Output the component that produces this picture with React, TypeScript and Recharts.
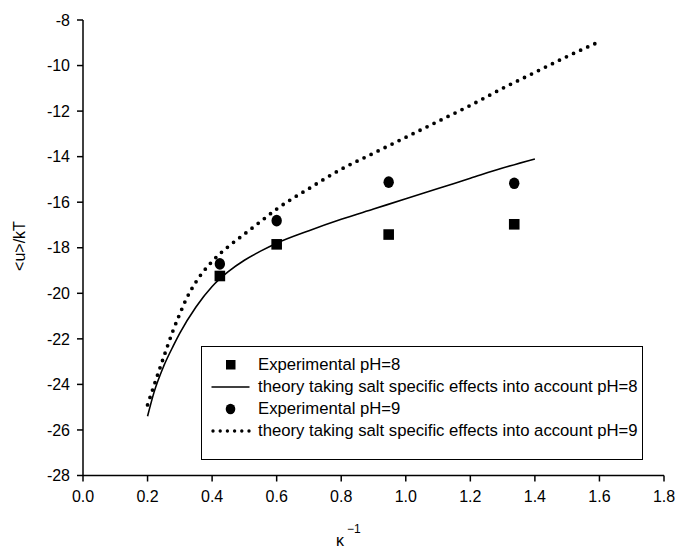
import React from 'react';
import { ComposedChart, Line, Scatter, XAxis, YAxis, Legend } from 'recharts';

const FONT = '"Liberation Sans", Arial, Helvetica, sans-serif';

const xTicks = [0, 0.2, 0.4, 0.6, 0.8, 1.0, 1.2, 1.4, 1.6, 1.8];
const yTicks = [-28, -26, -24, -22, -20, -18, -16, -14, -12, -10, -8];

const expX = [0.424, 0.6, 0.947, 1.336];
const expPH8 = [-19.24, -17.85, -17.42, -16.97];
const expPH9 = [-18.71, -16.81, -15.12, -15.17];

const theoryPH8X = [0.2, 0.22, 0.25, 0.28, 0.3, 0.35, 0.4, 0.45, 0.5, 0.55, 0.6, 0.7, 0.8, 0.9, 1.0, 1.1, 1.2, 1.3, 1.4];
const theoryPH8Y = [-25.4, -24.35, -23.2, -22.3, -21.75, -20.6, -19.7, -19.05, -18.55, -18.15, -17.8, -17.25, -16.75, -16.3, -15.85, -15.4, -14.95, -14.5, -14.1];

const theoryPH9X = [0.2, 0.22, 0.25, 0.28, 0.3, 0.32, 0.35, 0.4, 0.45, 0.5, 0.55, 0.6, 0.7, 0.8, 0.9, 1.0, 1.1, 1.2, 1.3, 1.4, 1.5, 1.6];
const theoryPH9Y = [-24.9, -24.05, -22.8, -21.6, -20.9, -20.25, -19.5, -18.6, -17.95, -17.4, -16.85, -16.3, -15.4, -14.55, -13.85, -13.15, -12.45, -11.75, -11.0, -10.3, -9.6, -8.95];

const legendLabels = [
  'Experimental pH=8',
  'theory taking salt specific effects into account pH=8',
  'Experimental pH=9',
  'theory taking salt specific effects into account pH=9',
];

const zip = (xs: number[], ys: number[]) => xs.map((x, i) => ({ x, y: ys[i] }));

const ph8Points = zip(expX, expPH8);
const ph9Points = zip(expX, expPH9);
const ph8Line = zip(theoryPH8X, theoryPH8Y);
const ph9Line = zip(theoryPH9X, theoryPH9Y);

const SquareShape = (p: any) => (
  <rect x={p.cx - 5.3} y={p.cy - 5.3} width={10.6} height={10.6} fill="#000" />
);
const CircleShape = (p: any) => (
  <ellipse cx={p.cx} cy={p.cy} rx={5.2} ry={5.8} fill="#000" />
);

const LegendIcon = ({ kind }: { kind: number }) => (
  <svg width={56} height={22} style={{ display: 'block', flex: '0 0 56px' }}>
    {kind === 0 && <rect x={24} y={6} width={9.5} height={9.5} fill="#000" />}
    {kind === 1 && <line x1={9.5} y1={11} x2={47.5} y2={11} stroke="#000" strokeWidth={1.6} />}
    {kind === 2 && <ellipse cx={28.5} cy={11} rx={4.8} ry={5.3} fill="#000" />}
    {kind === 3 && (
      <line x1={11} y1={11} x2={47} y2={11} stroke="#000" strokeWidth={3.4} strokeDasharray="0 7.2" strokeLinecap="round" />
    )}
  </svg>
);

const LegendBox = () => (
  <div
    style={{
      boxSizing: 'border-box',
      width: 442,
      height: 114,
      border: '1.5px solid #000',
      background: '#fff',
      fontFamily: FONT,
      fontSize: 16.7,
      color: '#000',
      paddingTop: 7,
    }}
  >
    {legendLabels.map((t, i) => (
      <div key={i} style={{ display: 'flex', alignItems: 'center', height: 22, whiteSpace: 'nowrap' }}>
        <LegendIcon kind={i} />
        <span>{t}</span>
      </div>
    ))}
  </div>
);

const YLabel = () => (
  <text
    x={19}
    y={246}
    transform="rotate(-90 19 246)"
    textAnchor="middle"
    dominantBaseline="central"
    fontFamily={FONT}
    fontSize={16}
    fill="#000"
  >
    {'<u>/kT'}
  </text>
);

const XLabel = () => (
  <text x={336} y={546} fontFamily={FONT} fontSize={16} fill="#000">
    κ
    <tspan x={347} y={533} fontSize={12}>
      −1
    </tspan>
  </text>
);

const tickStyle = { fontFamily: FONT, fontSize: 16, fill: '#000' };

export default function App() {
  return (
    <div style={{ position: 'absolute', left: 0, top: 0, background: '#fff' }}>
      <ComposedChart
        width={677}
        height={549}
        margin={{ top: 20, right: 13, bottom: 43.5, left: 23 }}
      >
        <XAxis
          xAxisId={0}
          dataKey="x"
          type="number"
          domain={[0, 1.8]}
          ticks={xTicks}
          tickFormatter={(v: number) => v.toFixed(1)}
          interval={0}
          allowDataOverflow
          stroke="#000"
          strokeWidth={1.5}
          tickSize={6}
          tickMargin={9}
          tick={tickStyle}
          height={30}
          label={{ content: <XLabel /> } as any}
        />
        <XAxis
          xAxisId="top"
          orientation="top"
          type="number"
          domain={[0, 1.8]}
          tick={false}
          tickLine={false}
          stroke="#000"
          strokeWidth={1.5}
          height={0}
        />
        <YAxis
          yAxisId={0}
          type="number"
          domain={[-28, -8]}
          ticks={yTicks}
          interval={0}
          allowDataOverflow
          stroke="#000"
          strokeWidth={1.5}
          tickSize={6}
          tickMargin={7}
          tick={tickStyle}
          width={60}
          label={{ content: <YLabel /> } as any}
        />
        <YAxis
          yAxisId="right"
          orientation="right"
          type="number"
          domain={[-28, -8]}
          tick={false}
          tickLine={false}
          stroke="#000"
          strokeWidth={1.5}
          width={0}
        />
        <Line
          data={ph8Line}
          dataKey="y"
          type="monotone"
          stroke="#000"
          strokeWidth={1.6}
          dot={false}
          activeDot={false}
          isAnimationActive={false}
        />
        <Line
          data={ph9Line}
          dataKey="y"
          type="monotone"
          stroke="#000"
          strokeWidth={3.8}
          strokeDasharray="0 7.8"
          strokeLinecap="round"
          dot={false}
          activeDot={false}
          isAnimationActive={false}
        />
        <Scatter data={ph8Points} dataKey="y" shape={SquareShape} isAnimationActive={false} />
        <Scatter data={ph9Points} dataKey="y" shape={CircleShape} isAnimationActive={false} />
        <Legend
          content={<LegendBox />}
          layout="vertical"
          align="center"
          verticalAlign="middle"
          wrapperStyle={{ left: 201, top: 346, width: 442, height: 114 }}
        />
      </ComposedChart>
    </div>
  );
}
